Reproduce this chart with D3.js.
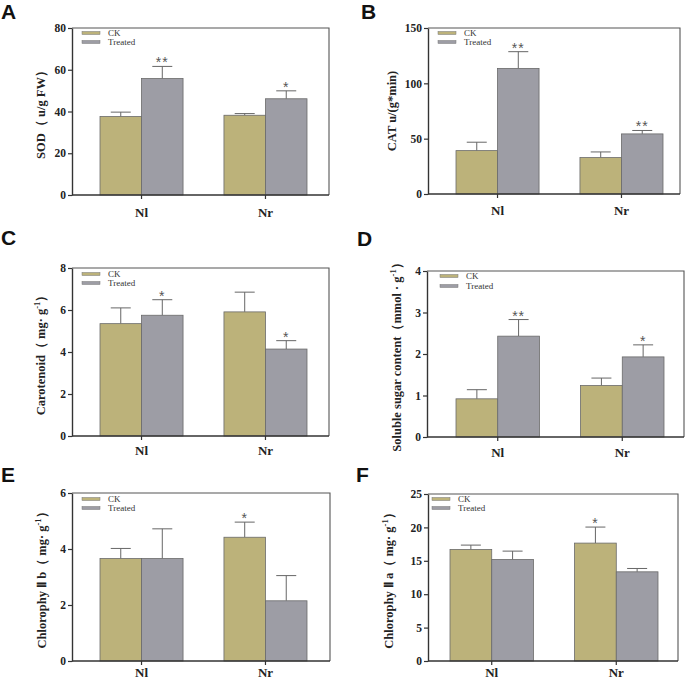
<!DOCTYPE html>
<html><head><meta charset="utf-8">
<script src="https://cdn.jsdelivr.net/npm/d3@7/dist/d3.min.js"></script>
<style>body{margin:0;background:#fff}svg{display:block}</style>
</head><body><svg id="c" width="685" height="681"></svg>
<script>
// ---------- data ----------
const groups = ["Nl", "Nr"];
const seriesNames = ["CK", "Treated"];

// A: SOD
const sodCK = [37.6, 38.2], sodCKErr = [2.1, 0.8], sodCKSig = ["", ""];
const sodTr = [55.8, 46.1], sodTrErr = [5.8, 3.8], sodTrSig = ["**", "*"];
const sodTicks = [0, 20, 40, 60, 80];
// B: CAT
const catCK = [39.2, 32.9], catCKErr = [7.6, 5.1], catCKSig = ["", ""];
const catTr = [113.5, 54.3], catTrErr = [15.1, 3.1], catTrSig = ["**", "**"];
const catTicks = [0, 50, 100, 150];
// C: Carotenoid
const carCK = [5.35, 5.91], carCKErr = [0.75, 0.94], carCKSig = ["", ""];
const carTr = [5.75, 4.14], carTrErr = [0.74, 0.40], carTrSig = ["*", "*"];
const carTicks = [0, 2, 4, 6, 8];
// D: Soluble sugar
const sugCK = [0.92, 1.24], sugCKErr = [0.22, 0.18], sugCKSig = ["", ""];
const sugTr = [2.43, 1.93], sugTrErr = [0.40, 0.29], sugTrSig = ["**", "*"];
const sugTicks = [0, 1, 2, 3, 4];
// E: Chlorophyll b
const chbCK = [3.66, 4.42], chbCKErr = [0.36, 0.54], chbCKSig = ["", "*"];
const chbTr = [3.66, 2.15], chbTrErr = [1.06, 0.90], chbTrSig = ["", ""];
const chbTicks = [0, 2, 4, 6];
// F: Chlorophyll a
const chaCK = [16.7, 17.65], chaCKErr = [0.65, 2.4], chaCKSig = ["", "*"];
const chaTr = [15.2, 13.35], chaTrErr = [1.25, 0.5], chaTrSig = ["", ""];
const chaTicks = [0, 5, 10, 15, 20, 25];

const titles = {
  A: "SOD（ u/g FW）",
  B: "CAT  u/(g*min)",
  C: "Carotenoid（ mg· g^{-1}）",
  D: "Soluble sugar content（mmol · g^{-1}）",
  E: "Chlorophy Ⅱ b（ mg· g^{-1}）",
  F: "Chlorophy Ⅱ a（ mg· g^{-1}）"
};

// ---------- style ----------
const colors = {CK: "#bcb27a", Treated: "#9d9da5"};
const serif = "'Liberation Serif','Times New Roman',serif";

const svg = d3.select("#c");
svg.append("rect").attr("width", 685).attr("height", 681).attr("fill", "#fff");

const panels = [
  {letter: "A", lx: 1, ly: 19, left: 72, right: 329, top: 28, bottom: 195, inset: [28, 22], labOff: 22, legX: 10, legY: [5, 14], titleX: 45,
   ck: sodCK, ckErr: sodCKErr, ckSig: sodCKSig, tr: sodTr, trErr: sodTrErr, trSig: sodTrSig, ticks: sodTicks},
  {letter: "B", lx: 361, ly: 19, left: 428, right: 680, top: 28, bottom: 194, inset: [28, 17], labOff: 21, legX: 10, legY: [5, 14], titleX: 396,
   ck: catCK, ckErr: catCKErr, ckSig: catCKSig, tr: catTr, trErr: catTrErr, trSig: catTrSig, ticks: catTicks},
  {letter: "C", lx: 1, ly: 245, left: 72, right: 329, top: 268, bottom: 436, inset: [28, 22], labOff: 19, legX: 10, legY: [6, 15], titleX: 45,
   ck: carCK, ckErr: carCKErr, ckSig: carCKSig, tr: carTr, trErr: carTrErr, trSig: carTrSig, ticks: carTicks},
  {letter: "D", lx: 357, ly: 246, left: 427, right: 684, top: 271, bottom: 437, inset: [29, 20], labOff: 20, legX: 13, legY: [5, 15], titleX: 401,
   ck: sugCK, ckErr: sugCKErr, ckSig: sugCKSig, tr: sugTr, trErr: sugTrErr, trSig: sugTrSig, ticks: sugTicks},
  {letter: "E", lx: 1, ly: 482, left: 72, right: 330, top: 493, bottom: 661, inset: [28, 23], labOff: 16, legX: 10, legY: [6, 15], titleX: 46,
   ck: chbCK, ckErr: chbCKErr, ckSig: chbCKSig, tr: chbTr, trErr: chbTrErr, trSig: chbTrSig, ticks: chbTicks},
  {letter: "F", lx: 356, ly: 482, left: 428, right: 678, top: 494, bottom: 661, inset: [22, 20], labOff: 16, legX: 4, legY: [5, 14], titleX: 393,
   ck: chaCK, ckErr: chaCKErr, ckSig: chaCKSig, tr: chaTr, trErr: chaTrErr, trSig: chaTrSig, ticks: chaTicks}
];

function drawPanel(p) {
  const g = svg.append("g");
  // panel letter
  g.append("text").attr("x", p.lx).attr("y", p.ly).text(p.letter)
    .attr("font-family", "'Liberation Sans',Arial,sans-serif").attr("font-weight", "bold")
    .attr("font-size", 21).attr("fill", "#111");

  const y = d3.scaleLinear().domain([p.ticks[0], p.ticks[p.ticks.length - 1]]).range([p.bottom, p.top]);
  const x0 = d3.scaleBand().domain(groups).range([p.left + p.inset[0], p.right - p.inset[1]])
    .paddingInner(0.33).paddingOuter(0);
  const x1 = d3.scaleBand().domain(seriesNames).range([0, x0.bandwidth()]).padding(0);

  // frame (top & right)
  g.append("path").attr("d", `M${p.left},${p.top}H${p.right}V${p.bottom}`)
    .attr("fill", "none").attr("stroke", "#555").attr("stroke-width", 1.1);

  const rows = [];
  groups.forEach((grp, i) => {
    rows.push({grp, s: "CK", v: p.ck[i], e: p.ckErr[i], sig: p.ckSig[i]});
    rows.push({grp, s: "Treated", v: p.tr[i], e: p.trErr[i], sig: p.trSig[i]});
  });

  // error bars (behind bars)
  const eb = g.append("g").attr("stroke", "#666").attr("stroke-width", 1);
  rows.forEach(r => {
    const cx = x0(r.grp) + x1(r.s) + x1.bandwidth() / 2;
    eb.append("line").attr("x1", cx).attr("x2", cx).attr("y1", y(r.v)).attr("y2", y(r.v + r.e));
    eb.append("line").attr("x1", cx - 10).attr("x2", cx + 10).attr("y1", y(r.v + r.e)).attr("y2", y(r.v + r.e));
  });

  // bars
  g.append("g").selectAll("rect").data(rows).join("rect")
    .attr("x", d => x0(d.grp) + x1(d.s))
    .attr("width", x1.bandwidth())
    .attr("y", d => y(d.v))
    .attr("height", d => y(0) - y(d.v))
    .attr("fill", d => colors[d.s])
    .attr("stroke", "#6a6a6a").attr("stroke-width", 0.8);

  // significance
  g.append("g").selectAll("text").data(rows.filter(r => r.sig)).join("text")
    .attr("x", d => x0(d.grp) + x1(d.s) + x1.bandwidth() / 2)
    .attr("y", d => y(d.v + d.e) + 1)
    .attr("text-anchor", "middle")
    .attr("font-family", "'Liberation Sans',Arial,sans-serif").attr("font-size", 14).attr("fill", "#555")
    .attr("letter-spacing", 1)
    .text(d => d.sig);

  // axes
  const ya = g.append("g").attr("transform", `translate(${p.left},0)`)
    .call(d3.axisLeft(y).tickValues(p.ticks).tickSize(4).tickSizeOuter(0).tickPadding(2).tickFormat(d3.format("d")));
  ya.select(".domain").attr("stroke", "#333").attr("stroke-width", 1.4);
  ya.selectAll(".tick line").attr("stroke", "#333").attr("stroke-width", 1.2);
  ya.selectAll("text").attr("font-family", serif).attr("font-weight", "bold").attr("font-size", 11.5).attr("fill", "#222");

  const xa = g.append("g").attr("transform", `translate(0,${p.bottom})`)
    .call(d3.axisBottom(x0).tickSize(4).tickSizeOuter(0).tickPadding(p.labOff - 13));
  xa.select(".domain").attr("stroke", "#333").attr("stroke-width", 1.4)
    .attr("d", `M${p.left},0H${p.right}`);
  xa.selectAll(".tick line").attr("stroke", "#333").attr("stroke-width", 1.2);
  xa.selectAll("text").attr("font-family", serif).attr("font-weight", "bold").attr("font-size", 13).attr("fill", "#222");

  // legend
  seriesNames.forEach((s, i) => {
    const ly = p.top + p.legY[i];
    g.append("rect").attr("x", p.left + p.legX).attr("y", ly - 1.5).attr("width", 18).attr("height", 3)
      .attr("fill", colors[s]).attr("stroke", "#777").attr("stroke-width", 0.5);
    g.append("text").attr("x", p.left + p.legX + 26).attr("y", ly + 3)
      .attr("font-family", serif).attr("font-size", 9).attr("fill", "#333").text(s);
  });

  // y title
  const cy = (p.top + p.bottom) / 2;
  const t = g.append("text").attr("transform", `translate(${p.titleX},${cy}) rotate(-90)`)
    .attr("text-anchor", "middle").attr("font-family", serif).attr("font-weight", "bold")
    .attr("font-size", 12.5).attr("fill", "#222");
  const parts = titles[p.letter].split(/\^\{(.*?)\}/);
  parts.forEach((part, i) => {
    if (!part) return;
    if (i % 2 === 1) {
      t.append("tspan").attr("dy", -5).attr("font-size", 8.5).text(part);
    } else {
      const ts = t.append("tspan").text(part);
      if (i > 0) ts.attr("dy", 5);
    }
  });
}

panels.forEach(drawPanel);
</script>
</body></html>
